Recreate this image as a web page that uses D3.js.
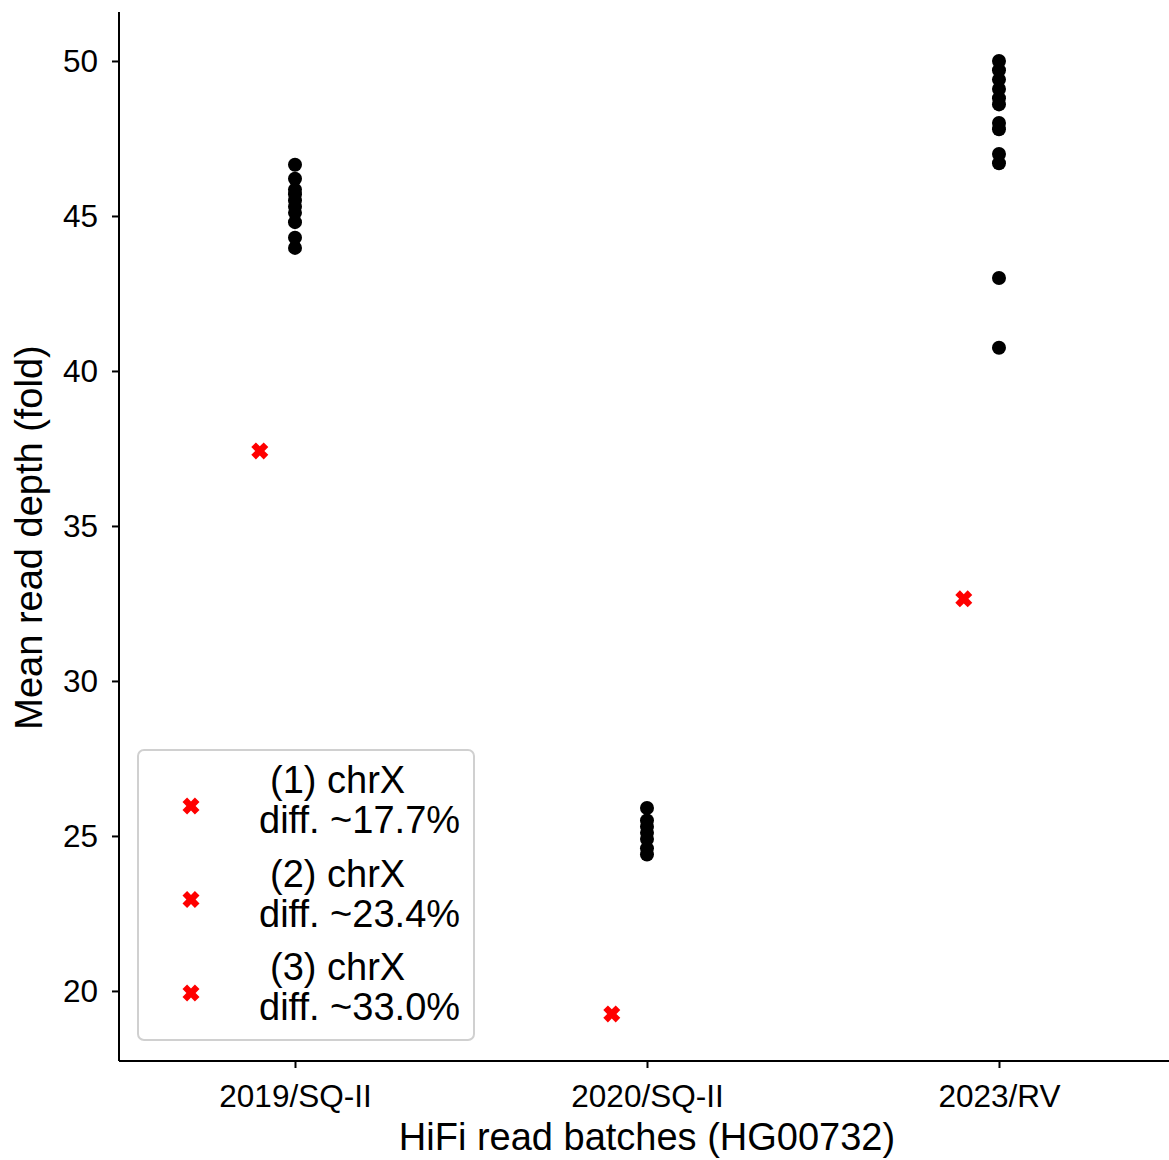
<!DOCTYPE html>
<html>
<head>
<meta charset="utf-8">
<script src="https://cdn.jsdelivr.net/npm/d3@7"></script>
<style>
  body { margin: 0; background: #fff; }
  svg text { font-family: "Liberation Sans", Arial, sans-serif; fill: #000; }
  .axis path, .axis line { stroke: #000; stroke-width: 2px; }
  .axis text { font-size: 31.5px; }
  .axis-title { font-size: 38px; }
  .legend-text { font-size: 38px; }
</style>
</head>
<body>
<script>
// Batch categories and per-batch read depth values
const batches = ["2019/SQ-II", "2020/SQ-II", "2023/RV"];
const depths2019 = [46.65, 46.2, 45.85, 45.7, 45.5, 45.3, 45.1, 44.8, 44.3, 43.97];
const depths2020 = [25.9, 25.5, 25.3, 25.1, 24.9, 24.6, 24.4];
const depths2023 = [50.0, 49.7, 49.4, 49.1, 48.8, 48.6, 48.0, 47.8, 47.0, 46.7, 43.0, 40.75];
const chrXDepths = [37.42, 19.26, 32.65];
const chrXLabels = [["(1) chrX", "diff. ~17.7%"], ["(2) chrX", "diff. ~23.4%"], ["(3) chrX", "diff. ~33.0%"]];
const yTicks = [20, 25, 30, 35, 40, 45, 50];

const width = 1169, height = 1160;
const margin = {left: 119, top: 12, right: 0, bottom: 99};
const plotW = width - margin.left - margin.right;
const plotH = height - margin.top - margin.bottom;

const svg = d3.select("body").append("svg")
  .attr("width", width)
  .attr("height", height);

const plot = svg.append("g")
  .attr("transform", `translate(${margin.left},${margin.top})`);

const xScale = d3.scaleLinear().domain([-0.5, 2.483]).range([0, plotW]);
const yScale = d3.scaleLinear().domain([17.74, 51.58]).range([plotH, 0]);

// axes
const xAxis = d3.axisBottom(xScale)
  .tickValues([0, 1, 2])
  .tickFormat(i => batches[i])
  .tickSize(7)
  .tickPadding(17);
const yAxis = d3.axisLeft(yScale)
  .tickValues(yTicks)
  .tickSize(7)
  .tickPadding(14);

const gx = plot.append("g")
  .attr("class", "axis")
  .attr("transform", `translate(0,${plotH})`)
  .call(xAxis);
gx.select(".domain").attr("d", `M0,0H${plotW}`);

const gy = plot.append("g")
  .attr("class", "axis")
  .call(yAxis);
gy.select(".domain").attr("d", `M0,0V${plotH}`);

// black points
const groups = [depths2019, depths2020, depths2023];
const points = groups.flatMap((vals, i) => vals.map(v => ({i, v})));
plot.selectAll("circle.pt")
  .data(points)
  .enter().append("circle")
  .attr("class", "pt")
  .attr("cx", d => xScale(d.i))
  .attr("cy", d => yScale(d.v))
  .attr("r", 7)
  .attr("fill", "#000");

// red X markers (filled 'X')
const s = 8.5, t = 4.6;
const xPath = `M${-s},${-s + t}L${-s + t},${-s}L0,${-t}L${s - t},${-s}L${s},${-s + t}L${t},0` +
  `L${s},${s - t}L${s - t},${s}L0,${t}L${-s + t},${s}L${-s},${s - t}L${-t},0Z`;

plot.selectAll("path.chrx")
  .data(chrXDepths)
  .enter().append("path")
  .attr("class", "chrx")
  .attr("d", xPath)
  .attr("fill", "#ff0000")
  .attr("transform", (d, i) => `translate(${xScale(i - 0.1)},${yScale(d)})`);

// legend
const legend = svg.append("g").attr("transform", "translate(138,750)");
legend.append("rect")
  .attr("width", 336)
  .attr("height", 290)
  .attr("rx", 6)
  .attr("fill", "#fff")
  .attr("stroke", "#d0d0d0")
  .attr("stroke-width", 2);

chrXLabels.forEach((lines, i) => {
  const cy = 56 + i * 93.5;
  legend.append("path")
    .attr("d", xPath)
    .attr("fill", "#ff0000")
    .attr("transform", `translate(53,${cy})`);
  const txt = legend.append("text").attr("class", "legend-text");
  txt.append("tspan").attr("x", 132).attr("y", cy - 13).text(lines[0]);
  txt.append("tspan").attr("x", 121).attr("y", cy + 27).text(lines[1]);
});

// axis titles
svg.append("text")
  .attr("class", "axis-title")
  .attr("x", margin.left + xScale(1))
  .attr("y", 1150)
  .attr("text-anchor", "middle")
  .text("HiFi read batches (HG00732)");

svg.append("text")
  .attr("class", "axis-title")
  .attr("text-anchor", "middle")
  .attr("transform", `translate(42,${margin.top + plotH / 2 + 1}) rotate(-90)`)
  .text("Mean read depth (fold)");
</script>
</body>
</html>
